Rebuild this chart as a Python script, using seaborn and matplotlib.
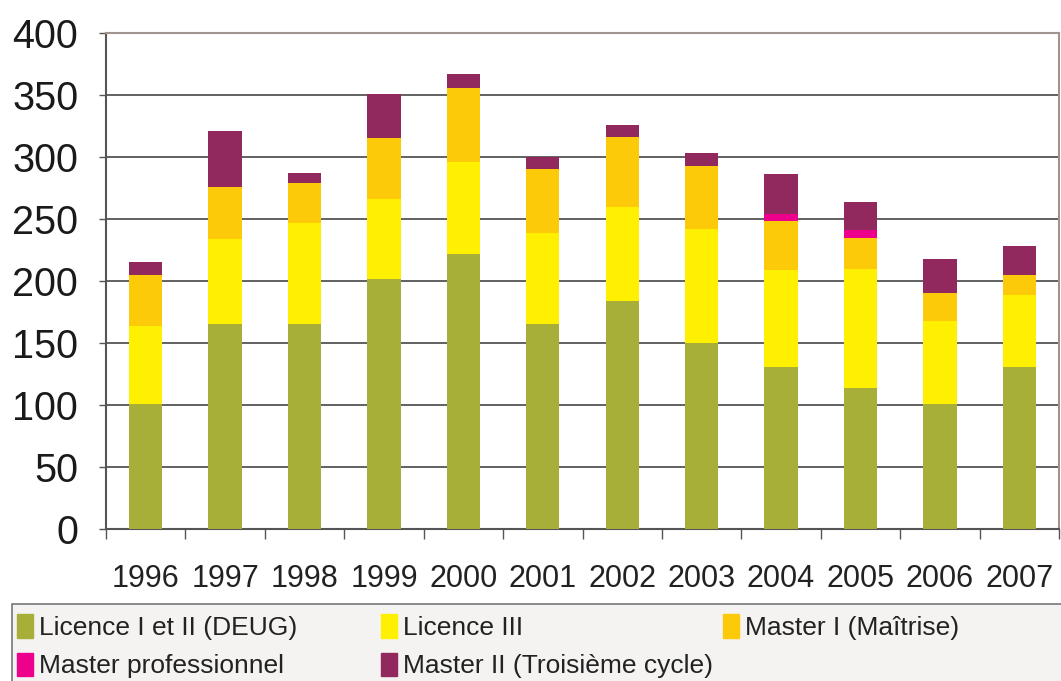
import matplotlib
matplotlib.use("Agg")
import matplotlib.pyplot as plt
import matplotlib.patches as mpatches
import seaborn as sns
import numpy as np
import pandas as pd

years = ["1996", "1997", "1998", "1999", "2000", "2001",
         "2002", "2003", "2004", "2005", "2006", "2007"]
licence_1_2 = [101, 165, 165, 202, 222, 165, 184, 150, 131, 114, 101, 131]
licence_3 = [63, 69, 82, 64, 74, 74, 76, 92, 78, 96, 67, 58]
master_1 = [41, 42, 32, 49, 60, 51, 56, 51, 39, 25, 22, 16]
master_pro = [0, 0, 0, 0, 0, 0, 0, 0, 6, 6, 0, 0]
master_2 = [10, 45, 8, 36, 11, 10, 10, 10, 32, 23, 28, 23]

labels = ["Licence I et II (DEUG)", "Licence III", "Master I (Maîtrise)",
          "Master professionnel", "Master II (Troisième cycle)"]
colors = ["#a8af39", "#ffef00", "#fdca0a", "#ec008c", "#92295e"]

sns.set_style("white")
plt.rcParams['font.family'] = ['Liberation Sans', 'DejaVu Sans']

df = pd.DataFrame({"year": years, labels[0]: licence_1_2, labels[1]: licence_3,
                   labels[2]: master_1, labels[3]: master_pro, labels[4]: master_2})
cum = df[labels].cumsum(axis=1)

fig = plt.figure(figsize=(10.61, 6.81), dpi=100)
ax = fig.add_axes([106 / 1061, 1 - 529 / 681, 953 / 1061, 496 / 681])

# stacked bars drawn back to front from cumulative totals
for lab, col in reversed(list(zip(labels, colors))):
    sns.barplot(x=df["year"], y=cum[lab], color=col, width=0.42,
                saturation=1, ax=ax, order=years, linewidth=0, zorder=3)

ax.set_xlim(-0.5, len(years) - 0.5)
ax.set_ylim(0, 400)
ax.set_yticks(np.arange(0, 401, 50))
ax.yaxis.grid(True, color="#555555", linewidth=1.3, zorder=0)
ax.set_axisbelow(True)
ax.set_xlabel("")
ax.set_ylabel("")

for s in ["left", "bottom"]:
    ax.spines[s].set_color("#555555")
    ax.spines[s].set_linewidth(1.5)
for s in ["top", "right"]:
    ax.spines[s].set_color("#a0958f")
    ax.spines[s].set_linewidth(1.5)

ax.tick_params(axis="y", length=5, width=1, color="#555555", pad=15,
               labelsize=28.5, labelcolor="#1a1a1a", left=True)
ax.set_xticks(np.arange(len(years)))
ax.set_xticklabels(years)
ax.set_xticks(np.arange(-0.5, len(years), 1), minor=True)
ax.tick_params(axis="x", which="major", length=0, pad=25, labelsize=22,
               labelcolor="#222222")
ax.tick_params(axis="x", which="minor", length=7, width=1, color="#555555",
               direction="out", bottom=True)

# legend box with three columns placed like the original
box = mpatches.Rectangle((12 / 1061, -0.02), 1.0, 0.02 + 1 - 604 / 681,
                         transform=fig.transFigure, facecolor="#f4f3f2",
                         edgecolor="#777777", linewidth=1.2, zorder=0)
fig.add_artist(box)

handles = [mpatches.Patch(color=c, label=l) for l, c in zip(labels, colors)]
columns = [([0, 3], 17), ([1, 4], 381), ([2], 723)]
for idx, xpx in columns:
    leg = fig.legend([handles[i] for i in idx], [labels[i] for i in idx],
                     loc="upper left", bbox_to_anchor=(xpx / 1061, 1 - 614 / 681),
                     frameon=False, handlelength=0.6, handleheight=1.0,
                     handletextpad=0.25, borderaxespad=0, borderpad=0,
                     labelspacing=0.48, prop={"size": 19})
    for t in leg.get_texts():
        t.set_color("#222222")

fig.savefig("out.png", dpi=100)
